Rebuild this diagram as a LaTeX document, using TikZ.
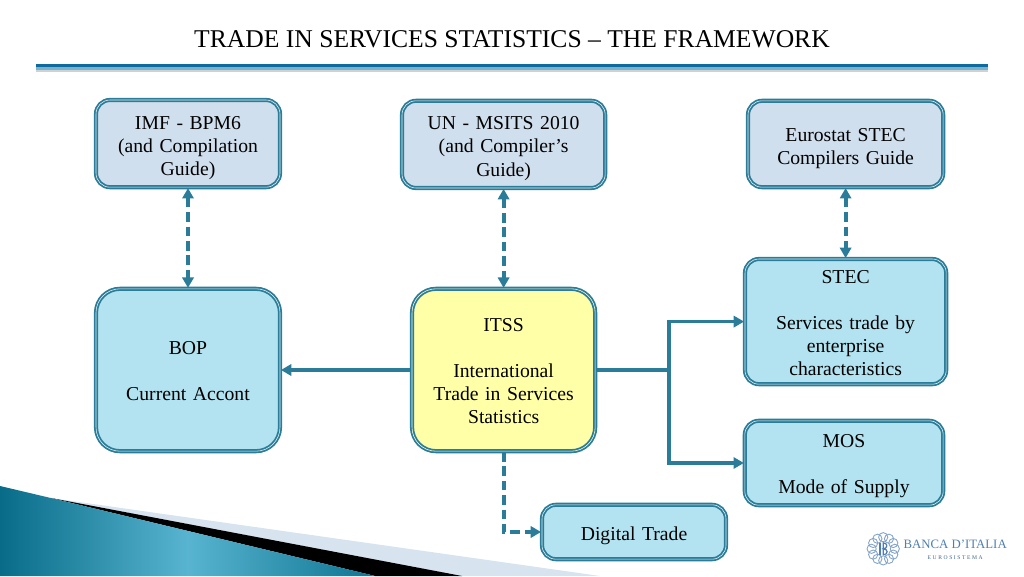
\documentclass[tikz,border=0pt]{standalone}
\usepackage{fontspec}
\setmainfont{Liberation Serif}
\usepackage{tikz}
\usetikzlibrary{arrows.meta}
\definecolor{lineteal}{HTML}{2B7C98}
\definecolor{boxblue}{HTML}{D0DFEE}
\definecolor{boxcyan}{HTML}{B3E3F0}
\definecolor{boxyellow}{HTML}{FFFFA8}
\definecolor{logoblue}{HTML}{4F7FB0}
\definecolor{ruledark}{HTML}{0F6A9E}
\definecolor{rulelight}{HTML}{74B4CC}
\definecolor{swooshdark}{HTML}{086C88}
\definecolor{swooshmid}{HTML}{58B4D0}
\definecolor{swooshend}{HTML}{0E7592}
\tikzset{source box/.style={draw=lineteal, double=boxblue!40, line width=.45mm, double distance=.14mm, fill=boxblue, rounded corners=3.5mm, inner sep=0pt, align=center, text width=40mm}}
\tikzset{stat box/.style={source box, fill=boxcyan, double=boxcyan!40}}
\tikzset{text drop/.style={execute at begin node={\rule{0pt}{#1}}}}
\tikzset{solid link/.style={draw=lineteal, line width=.95mm, -{Triangle[length=2.6mm,width=2.8mm]}}}
\tikzset{dashed link/.style={solid link, dash pattern=on 2.4mm off 1.2mm}}
\tikzset{both heads/.style={{Triangle[length=2.6mm,width=2.8mm]}-{Triangle[length=2.6mm,width=2.8mm]}}}

\begin{document}
\begin{tikzpicture}
\useasboundingbox (0mm,0mm) rectangle (256mm,144mm);
\fontsize{14pt}{16.4pt}\selectfont

% title and rule
\node (title) at (128mm,134.3mm) {\fontsize{18.2pt}{22pt}\selectfont TRADE IN SERVICES STATISTICS -- THE FRAMEWORK};
\fill[black!18] (9mm,126.1mm) rectangle (247mm,126.9mm);
\fill[rulelight] (9mm,126.6mm) rectangle (247mm,127.3mm);
\fill[ruledark] (9mm,127.2mm) rectangle (247mm,127.9mm);

% corner swoosh
\fill[boxblue!85] (12.7mm,19.5mm) -- (150mm,0mm) -- (115mm,0mm) -- cycle;
\fill[black] (12.7mm,19.5mm) -- (115.5mm,0mm) -- (93.8mm,0mm) -- cycle;
\shade[left color=swooshdark, right color=swooshend, middle color=swooshmid] (0mm,22.5mm) -- (12.7mm,19.5mm) -- (93.8mm,0mm) -- (0mm,0mm) -- cycle;

% boxes
\node[source box, text drop=15.2pt] (imf) at (47mm,108.1mm) [minimum width=46mm, minimum height=21.8mm] {IMF - BPM6\\(and Compilation\\Guide)};
\node[source box, text drop=15.2pt] (un) at (125.9mm,107.9mm) [minimum width=50.8mm, minimum height=21.8mm] {UN - MSITS 2010\\(and Compiler's\\Guide)};
\node[source box, text drop=15.2pt] (eurostat) at (211.4mm,108mm) [minimum width=48.8mm, minimum height=21.6mm] {Eurostat STEC\\Compilers Guide};
\node[stat box, text drop=11pt] (stec) at (211.4mm,63.6mm) [minimum width=50.3mm, minimum height=31.3mm, text width=44mm] {STEC\\[\baselineskip]Services trade by\\enterprise\\characteristics};
\node[stat box, text drop=11pt] (bop) at (47mm,51.5mm) [minimum width=46mm, minimum height=40.6mm, rounded corners=6mm] {BOP\\[\baselineskip]Current Accont};
\node[stat box, fill=boxyellow, double=boxyellow!40, text drop=11pt] (itss) at (125.9mm,51.5mm) [minimum width=45.8mm, minimum height=40.6mm, rounded corners=6mm] {ITSS\\[\baselineskip]International\\Trade in Services\\Statistics};
\node[stat box, text drop=13.8pt] (mos) at (211mm,28.25mm) [minimum width=49.6mm, minimum height=21.1mm] {MOS\\[\baselineskip]Mode of Supply};
\node[stat box, text drop=15.2pt] (digital) at (158.5mm,11mm) [minimum width=46mm, minimum height=13.6mm] {Digital Trade};

% connectors
\coordinate (branch) at (167.3mm,51.5mm);
\draw[dashed link, both heads] (imf) -- (bop);
\draw[dashed link, both heads] (un) -- (itss);
\draw[dashed link, both heads] (eurostat) -- (stec);
\draw[solid link] (itss) -- (bop);
\draw[solid link, -] (itss) -- (branch);
\draw[solid link] (branch) |- (stec);
\draw[solid link] (branch) |- (mos);
\draw[dashed link] (itss) |- (digital);

% logo
\begin{scope}[shift={(220.8mm,6.8mm)}]
\foreach \a in {0,30,...,330}
	\draw[logoblue!70, line width=.22mm] (\a:2.9mm) circle (1.15mm);
\draw[logoblue, line width=.3mm] (-.8mm,-1.5mm) -- (-.8mm,1.5mm);
\draw[logoblue, line width=.3mm] (0mm,-1.5mm) -- (0mm,1.5mm) .. controls (1.2mm,1.5mm) and (1.2mm,0mm) .. (0mm,0mm) .. controls (1.3mm,0mm) and (1.3mm,-1.5mm) .. (0mm,-1.5mm);
\end{scope}
\node[text=logoblue, inner sep=0pt] (bank) at (238.8mm,8mm) {\fontsize{9.1pt}{10pt}\selectfont BANCA D'ITALIA};
\node[text=logoblue!80!black, inner sep=0pt] (euro) at (238.8mm,4.7mm) {\fontsize{4pt}{5pt}\selectfont\addfontfeatures{LetterSpace=28}EUROSISTEMA};
\end{tikzpicture}
\end{document}
